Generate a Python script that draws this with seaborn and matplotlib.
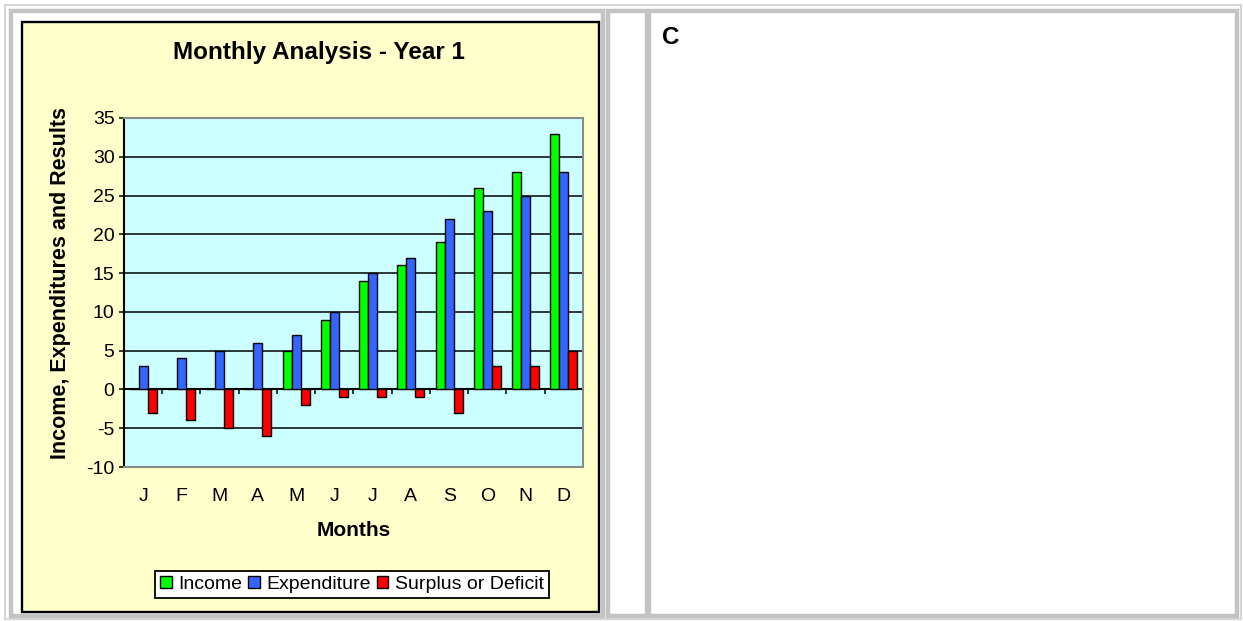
import numpy as np
import pandas as pd
import matplotlib
matplotlib.use("Agg")
import matplotlib.pyplot as plt
import seaborn as sns
from matplotlib.patches import Rectangle

# ---- data -------------------------------------------------------------
months = ["Jan", "Feb", "Mar", "Apr", "May", "Jun",
          "Jul", "Aug", "Sep", "Oct", "Nov", "Dec"]
month_initials = ["J", "F", "M", "A", "M", "J", "J", "A", "S", "O", "N", "D"]
income = [0, 0, 0, 0, 5, 9, 14, 16, 19, 26, 28, 33]
expenditure = [3, 4, 5, 6, 7, 10, 15, 17, 22, 23, 25, 28]
surplus = [-3, -4, -5, -6, -2, -1, -1, -1, -3, 3, 3, 5]
series_names = ["Income", "Expenditure", "Surplus or Deficit"]
series_colors = ["#00FF00", "#3366FF", "#FF0000"]
y_ticks = list(range(-10, 36, 5))

df = pd.DataFrame({
    "month": months * 3,
    "series": np.repeat(series_names, len(months)),
    "value": income + expenditure + surplus,
})

# ---- figure -----------------------------------------------------------
W, H = 1243, 621
sns.set_theme(style="white")
plt.rcParams["font.family"] = ["Liberation Sans", "DejaVu Sans"]
plt.rcParams["axes.unicode_minus"] = False

fig = plt.figure(figsize=(W / 100, H / 100), dpi=100)
fig.patch.set_facecolor("white")


def px_rect(x0, y0, x1, y1, **kw):
    """Rectangle given in pixel coordinates measured from the top-left."""
    r = Rectangle((x0 / W, 1 - y1 / H), (x1 - x0) / W, (y1 - y0) / H,
                  transform=fig.transFigure, **kw)
    fig.add_artist(r)
    return r


def px_text(x, y, s, **kw):
    return fig.text(x / W, 1 - y / H, s, **kw)


# page table frame: outer light rule and three cells
px_rect(4.5, 4.5, 1240.5, 619, facecolor="none", edgecolor="#d6d6d6", lw=1.5, zorder=-3)
for x0, x1 in [(11, 603), (607.5, 646.5), (649, 1236.5)]:
    px_rect(x0, 11, x1, 616, facecolor="white", edgecolor="#c3c3c3", lw=3.2, zorder=-2)

# chart area
px_rect(21.5, 21.5, 599, 612, facecolor="#FFFFCC", edgecolor="black", lw=1.7, zorder=-1)

# ---- plot area --------------------------------------------------------
ax = fig.add_axes([124 / W, 1 - 467 / H, 459 / W, 349 / H])
ax.set_facecolor("#CCFFFF")

sns.barplot(data=df, x="month", y="value", hue="series",
            order=months, hue_order=series_names, palette=series_colors,
            width=0.7, saturation=1, edgecolor="black", linewidth=1.0,
            errorbar=None, ax=ax)
handles, labels = ax.get_legend_handles_labels()
if ax.get_legend() is not None:
    ax.get_legend().remove()

ax.set_ylim(-10, 35)
ax.set_xlim(-0.5, 11.5)
ax.set_yticks(y_ticks)
ax.set_xticks(range(len(months)))
ax.set_xticklabels(month_initials)
ax.set_xlabel("")
ax.set_ylabel("")

ax.yaxis.grid(True, color="black", lw=1.1)
ax.xaxis.grid(False)
ax.set_axisbelow(True)

ax.tick_params(axis="x", length=0, pad=15, labelsize=14, labelcolor="black")
ax.tick_params(axis="y", left=True, direction="out", length=3.8, width=1.1,
               color="black", pad=3, labelsize=14, labelcolor="black")

ax.spines["left"].set_color("black")
ax.spines["left"].set_linewidth(1.5)
for side in ["top", "right", "bottom"]:
    ax.spines[side].set_color("#8a8a8a")
    ax.spines[side].set_linewidth(1.5)

# category axis crossing at zero, with ticks between months
zero_axis = ax.secondary_xaxis(10 / 45)
zero_axis.set_xticks(np.arange(0.5, len(months), 1.0))
zero_axis.tick_params(axis="x", direction="out", length=3.8, width=1.1,
                      color="black", labelbottom=False, labeltop=False)
zero_axis.spines["bottom"].set_color("black")
zero_axis.spines["bottom"].set_linewidth(1.5)

# ---- text -------------------------------------------------------------
px_text(319, 52, "Monthly Analysis - Year 1", ha="center", va="center",
        fontsize=17.5, fontweight="bold", color="black")
px_text(354, 530, "Months", ha="center", va="center",
        fontsize=15, fontweight="bold", color="black")
px_text(61, 283, "Income, Expenditures and Results", ha="center", va="center",
        rotation=90, fontsize=15.5, fontweight="bold", color="black")
px_text(662, 38, "C", ha="left", va="center",
        fontsize=17.5, fontweight="bold", color="black")

leg = fig.legend(handles, labels, loc="lower left",
                 bbox_to_anchor=(155 / W, 1 - 598 / H, 394 / W, 30 / H),
                 mode="expand", ncol=3, fontsize=14, frameon=True,
                 fancybox=False, edgecolor="black", facecolor="white",
                 framealpha=1, borderaxespad=0, handlelength=0.6,
                 handleheight=0.6, handletextpad=0.35, borderpad=0.25,
                 columnspacing=0.1)
leg.get_frame().set_linewidth(1.3)
for t in leg.get_texts():
    t.set_color("black")

fig.savefig("out.png", dpi=100, facecolor="white")
